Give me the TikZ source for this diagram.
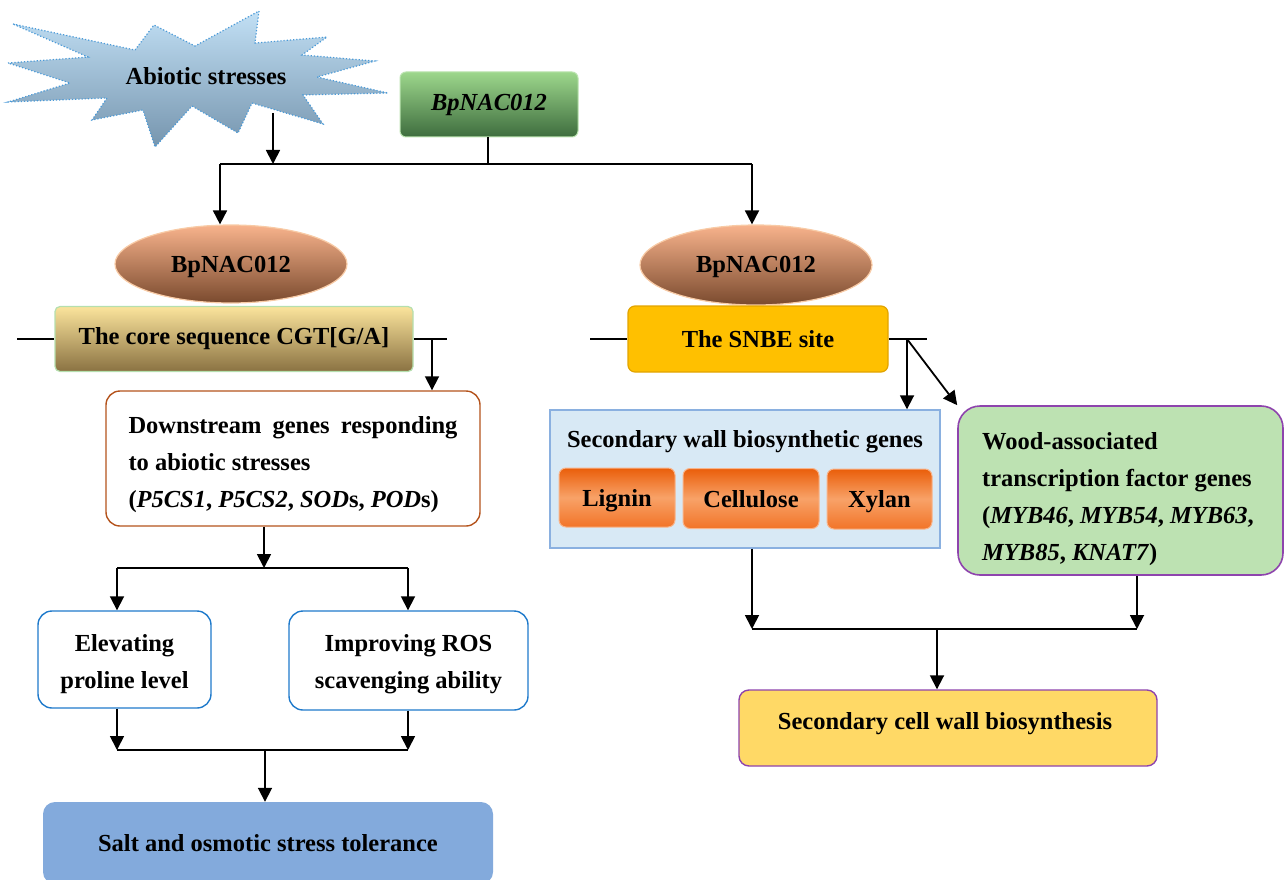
\documentclass[tikz,border=0pt]{standalone}
\usepackage{fontspec}
\setmainfont{Liberation Serif}
\usetikzlibrary{arrows.meta,shapes.geometric}
\definecolor{starblue}{HTML}{4A9AD8}
\definecolor{startop}{HTML}{C2E0F5}
\definecolor{starbot}{HTML}{7695AE}
\definecolor{gtop}{HTML}{9DD78C}
\definecolor{gbot}{HTML}{3E6D3E}
\definecolor{etop}{HTML}{F8B38C}
\definecolor{ebot}{HTML}{7A4A2E}
\definecolor{eline}{HTML}{F8CBA6}
\definecolor{ctop}{HTML}{FBE49C}
\definecolor{cbot}{HTML}{8A7242}
\definecolor{cline}{HTML}{B5DFAE}
\definecolor{brownline}{HTML}{B4531C}
\definecolor{blueline}{HTML}{1F7ACB}
\definecolor{saltfill}{HTML}{83AADC}
\definecolor{snbefill}{HTML}{FFC000}
\definecolor{snbeline}{HTML}{E2A400}
\definecolor{lbfill}{HTML}{D8E9F5}
\definecolor{lbline}{HTML}{8AB0E0}
\definecolor{otop}{HTML}{EA5E0A}
\definecolor{omid}{HTML}{F8A268}
\definecolor{obot}{HTML}{F27428}
\definecolor{oline}{HTML}{F8B48A}
\definecolor{woodfill}{HTML}{BDE2B2}
\definecolor{purpleline}{HTML}{8E44AD}
\definecolor{finalfill}{HTML}{FFD966}
\tikzset{
  txt/.style={font=\fontsize{24.5}{37}\selectfont\bfseries, inner sep=0pt},
  conn/.style={line width=1.8pt, black},
  arr/.style={conn, -{Triangle[length=14pt,width=14pt]}},
  obox/.style={txt, rounded corners=7pt, draw=oline, line width=1pt, top color=otop, bottom color=obot, middle color=omid, text height=17pt, text depth=0pt},
}
\begin{document}
\begin{tikzpicture}[x=1pt,y=-1pt]
\useasboundingbox (0,0) rectangle (1285,880);
% star
\path[draw=starblue, dotted, line width=1.2pt, top color=startop, bottom color=starbot]
 (13,24) -- (135,50) -- (154,25) -- (195,46) -- (259,11) -- (255,43) -- (327,37) -- (302,55)
 -- (375,61) -- (317,77) -- (388,93) -- (303,95) -- (323,124) -- (252,103) -- (238,133)
 -- (192,106) -- (155,147) -- (143,110) -- (92,120) -- (107,98) -- (8,102) -- (70,83)
 -- (8,63) -- (88,57) -- cycle;
\node[txt] (abiotic) at (206,76) {Abiotic stresses};
\coordinate (starfoot) at (273,113);
% top green box
\node[txt, rounded corners=6pt, draw=gtop!70!white, line width=1pt, top color=gtop, bottom color=gbot,
  minimum width=178pt, minimum height=65pt] (bp) at (489,104.5) {\itshape BpNAC012};
\coordinate (hL) at (220,164);
\coordinate (hS) at (273,164);
\coordinate (hG) at (488,164);
\coordinate (hR) at (752,164);
\draw[conn] (bp.south -| hG) -- (hG);
\draw[conn] (hL) -- (hR);
\draw[arr] (starfoot) -- (hS);
% left ellipse
\node[ellipse, draw=eline, line width=1.2pt, top color=etop, bottom color=ebot,
  minimum width=232pt, minimum height=78pt] (ellL) at (231,264) {};
\node[txt] (ellLt) at (231,267) {BpNAC012};
\draw[arr] (hL) -- (hL |- ellL.north);
% core sequence
\node[txt, rounded corners=5pt, draw=cline, line width=1.2pt, top color=ctop, bottom color=cbot,
  minimum width=358pt, minimum height=65pt] (core) at (234,339) {The core sequence CGT[G/A]};
\coordinate (cl) at (17,339);
\coordinate (cre) at (447,339);
\coordinate (cr) at (432,339);
\draw[conn] (cl) -- (core.west);
\draw[conn] (core.east) -- (cre);
% downstream
\node[rounded corners=14pt, draw=brownline, line width=1.4pt, fill=white,
  minimum width=374pt, minimum height=135pt] (down) at (293,458.5) {};
\node[txt, align=left] (downt) at (293,464.5)
  {\makebox[329pt][s]{Downstream genes responding}\\to abiotic stresses\\(\textit{P5CS1}, \textit{P5CS2}, \textit{SOD}s, \textit{POD}s)};
\draw[arr] (cr) -- (cr |- down.north);
% split
\coordinate (s0) at (264,568);
\coordinate (s1) at (117,568);
\coordinate (s2) at (408,568);
\draw[arr] (s0 |- down.south) -- (s0);
\draw[conn] (s1) -- (s2);
\node[rounded corners=14pt, draw=blueline, line width=1.4pt, fill=white,
  minimum width=173pt, minimum height=97pt] (elev) at (124.5,659.5) {};
\node[txt, align=center] (elevt) at (124.5,664.5) {Elevating\\proline level};
\node[rounded corners=14pt, draw=blueline, line width=1.4pt, fill=white,
  minimum width=239pt, minimum height=99pt] (impr) at (408.5,660.5) {};
\node[txt, align=center] (imprt) at (408.5,664.5) {Improving ROS\\scavenging ability};
\draw[arr] (s1) -- (s1 |- elev.north);
\draw[arr] (s2) -- (s2 |- impr.north);
\coordinate (m1) at (117,750);
\coordinate (m2) at (408,750);
\coordinate (m0) at (265,750);
\draw[arr] (m1 |- elev.south) -- (m1);
\draw[arr] (m2 |- impr.south) -- (m2);
\draw[conn] (m1) -- (m2);
\node[txt, rounded corners=12pt, fill=saltfill, minimum width=450pt, minimum height=82pt] (salt) at (268,843)
  {Salt and osmotic stress tolerance};
\draw[arr] (m0) -- (m0 |- salt.north);
% right ellipse
\node[ellipse, draw=eline, line width=1.2pt, top color=etop, bottom color=ebot,
  minimum width=232pt, minimum height=80pt] (ellR) at (756,265) {};
\node[txt] (ellRt) at (756,267) {BpNAC012};
\draw[arr] (hR) -- (hR |- ellR.north);
% SNBE
\node[txt, rounded corners=7pt, draw=snbeline, line width=1.2pt, fill=snbefill,
  minimum width=260pt, minimum height=66pt] (snbe) at (758,339) {The SNBE site};
\coordinate (sl) at (590,339);
\coordinate (sre) at (927,339);
\coordinate (sp) at (907,339);
\draw[conn] (sl) -- (snbe.west);
\draw[conn] (snbe.east) -- (sre);
% blue box
\node[draw=lbline, line width=1.4pt, fill=lbfill, minimum width=390pt, minimum height=138pt] (blue) at (745,479) {};
\node[txt] (bluetitle) at (745,442) {Secondary wall biosynthetic genes};
\node[obox, minimum width=116pt, minimum height=59pt] (lignin) at (617,497.5) {Lignin};
\node[obox, minimum width=136pt, minimum height=60pt] (cellu) at (751,498.5) {Cellulose};
\node[obox, minimum width=105pt, minimum height=60pt] (xylan) at (879.5,499) {Xylan};
% wood box
\node[rounded corners=22pt, draw=purpleline, line width=1.6pt, fill=woodfill,
  minimum width=325pt, minimum height=169pt] (wood) at (1120.5,490.5) {};
\node[txt, align=left, anchor=west] (woodt) at (982,499.5)
  {Wood-associated\\transcription factor genes\\(\textit{MYB46}, \textit{MYB54}, \textit{MYB63},\\\textit{MYB85}, \textit{KNAT7})};
\draw[arr] (sp) -- (sp |- blue.north);
\draw[arr] (sp) -- (wood.north west);
% merge right
\coordinate (r1) at (752,629);
\coordinate (r2) at (1137,629);
\coordinate (r0) at (937,629);
\draw[arr] (r1 |- blue.south) -- (r1);
\draw[arr] (r2 |- wood.south) -- (r2);
\draw[conn] (r1) -- (r2);
\node[rounded corners=10pt, draw=purpleline, line width=1.4pt, fill=finalfill,
  minimum width=418pt, minimum height=76pt] (final) at (948,728) {};
\node[txt] (finalt) at (945,724) {Secondary cell wall biosynthesis};
\draw[arr] (r0) -- (r0 |- final.north);
\end{tikzpicture}
\end{document}
